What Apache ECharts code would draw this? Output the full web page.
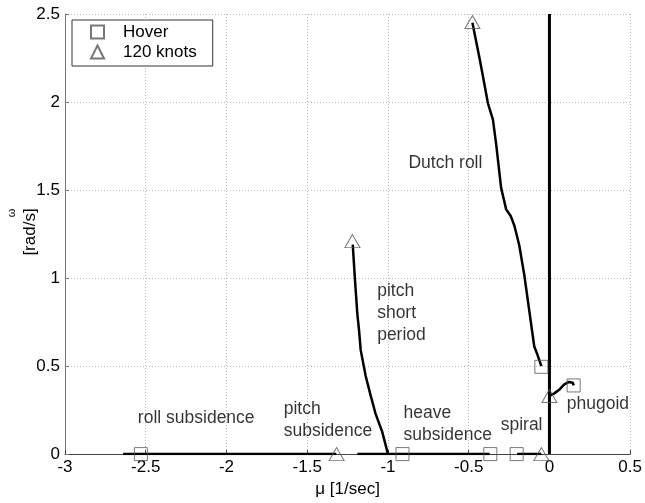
<!DOCTYPE html>
<html>
<head>
<meta charset="utf-8">
<script src="https://cdn.jsdelivr.net/npm/echarts@6/dist/echarts.min.js"></script>
<style>html,body{margin:0;padding:0;background:#fff}#c{width:645px;height:503px}</style>
</head>
<body>
<div id="c"></div>
<script>
// ---- data ----
const hoverX = [-2.53, -0.91, -0.366, -0.203, -0.05, 0.15];
const hoverY = [0, 0, 0, 0, 0.496, 0.39];
const knotsX = [-1.318, -1.22, -0.477, -0.05, 0.0];
const knotsY = [0, 1.21, 2.455, 0, 0.33];

const rollX = [-2.64, -1.32];
const rollY = [0, 0];
const heaveX = [-1.19, -0.37];
const heaveY = [0, 0];
const spiralX = [-0.20, -0.05];
const spiralY = [0, 0];
const zeroX = [0, 0];
const zeroY = [0, 2.5];
const pitchSPX = [-1.218, -1.205, -1.19, -1.179, -1.169, -1.138, -1.107, -1.077, -1.036, -1.0];
const pitchSPY = [1.19, 1.0, 0.8, 0.703, 0.592, 0.444, 0.332, 0.23, 0.128, 0.0];
const dutchX = [-0.477, -0.432, -0.411, -0.381, -0.350, -0.330, -0.299, -0.268, -0.240, -0.217, -0.187, -0.156, -0.125, -0.094, -0.074, -0.05];
const dutchY = [2.45, 2.244, 2.142, 1.993, 1.900, 1.761, 1.511, 1.390, 1.353, 1.297, 1.186, 1.019, 0.815, 0.611, 0.564, 0.50];
const phugX = [0.0, 0.03, 0.06, 0.09, 0.12, 0.145, 0.15];
const phugY = [0.33, 0.345, 0.365, 0.395, 0.41, 0.405, 0.39];

const noteText = ['roll subsidence', 'pitch\nsubsidence', 'heave\nsubsidence', 'spiral', 'phugoid', 'pitch\nshort\nperiod', 'Dutch roll'];
const noteX = [-2.552, -1.649, -0.907, -0.305, 0.104, -1.07, -0.876];
const noteY = [0.202, 0.195, 0.172, 0.167, 0.286, 0.802, 1.655];

const xMin = -3, xMax = 0.5, xStep = 0.5;
const yMin = 0, yMax = 2.5, yStep = 0.5;

// ---- build ----
const zip = (a, b) => a.map((v, i) => [v, b[i]]);
const FONT = 'Liberation Sans, Arial, Helvetica, sans-serif';
const lineSeries = (xs, ys, w) => ({
  type: 'line', data: zip(xs, ys), symbol: 'none', silent: true,
  lineStyle: { color: '#000', width: w || 2.5 }, z: 2, animation: false
});

const chart = echarts.init(document.getElementById('c'), null, { renderer: 'canvas' });
chart.setOption({
  animation: false,
  textStyle: { fontFamily: FONT },
  grid: { left: 65, right: 10, top: 14, bottom: 40 },
  xAxis: {
    type: 'value', min: xMin, max: xMax, interval: xStep,
    name: 'μ [1/sec]', nameLocation: 'middle', nameGap: 19,
    nameTextStyle: { fontSize: 17, color: '#000', fontFamily: FONT },
    axisLine: { onZero: false, lineStyle: { color: '#444', width: 1 } },
    axisTick: { show: true, inside: true, length: 4, lineStyle: { color: '#444' } },
    axisLabel: { fontSize: 17, color: '#000', margin: 5, fontFamily: FONT },
    splitLine: { show: true, lineStyle: { color: '#bbb', type: [1, 2], width: 1 } }
  },
  yAxis: {
    type: 'value', min: yMin, max: yMax, interval: yStep,
    axisLine: { show: true, onZero: false, lineStyle: { color: '#777', width: 1 } },
    axisTick: { show: true, inside: true, length: 4, lineStyle: { color: '#777' } },
    axisLabel: { fontSize: 17, color: '#000', margin: 5, fontFamily: FONT },
    splitLine: { show: true, lineStyle: { color: '#bbb', type: [1, 2], width: 1 } }
  },
  legend: {
    left: 72, top: 20, orient: 'vertical',
    data: [{ name: 'Hover', icon: 'rect' }, { name: '120 knots', icon: 'triangle' }],
    itemWidth: 13, itemHeight: 13, itemGap: 0,
    padding: [2, 16, 4, 18],
    backgroundColor: '#fff', borderColor: '#333', borderWidth: 1,
    textStyle: { fontSize: 17, color: '#000', lineHeight: 20, padding: [0, 0, 0, 14], fontFamily: FONT },
    selectedMode: false
  },
  graphic: [
    { type: 'text', x: 12, y: 213, rotation: Math.PI / 2,
      style: { text: 'ω', font: '11px ' + FONT, fill: '#000', textAlign: 'center', textVerticalAlign: 'middle' } },
    { type: 'text', x: 30, y: 232, rotation: Math.PI / 2,
      style: { text: '[rad/s]', font: '17px ' + FONT, fill: '#000', textAlign: 'center', textVerticalAlign: 'middle' } }
  ],
  series: [
    lineSeries(rollX, rollY),
    lineSeries(heaveX, heaveY),
    lineSeries(spiralX, spiralY),
    lineSeries(zeroX, zeroY, 3),
    lineSeries(pitchSPX, pitchSPY),
    lineSeries(dutchX, dutchY),
    lineSeries(phugX, phugY),
    {
      name: 'Hover', type: 'scatter', symbol: 'rect', symbolSize: 13, z: 3,
      data: zip(hoverX, hoverY),
      itemStyle: { color: 'rgba(0,0,0,0)', borderColor: '#555', borderWidth: 1 }
    },
    {
      name: '120 knots', type: 'scatter', symbol: 'triangle', symbolSize: [15, 13], z: 3,
      data: zip(knotsX, knotsY),
      itemStyle: { color: 'rgba(0,0,0,0)', borderColor: '#555', borderWidth: 1 }
    },
    {
      type: 'scatter', symbolSize: 1, silent: true, z: 4,
      data: noteX.map((x, i) => [x, noteY[i], noteText[i]]),
      itemStyle: { color: 'rgba(0,0,0,0)' },
      label: {
        show: true, position: 'right', distance: 0,
        formatter: p => p.value[2],
        fontSize: 17.5, lineHeight: 22, color: '#000', fontFamily: FONT
      }
    }
  ]
});
</script>
</body>
</html>
